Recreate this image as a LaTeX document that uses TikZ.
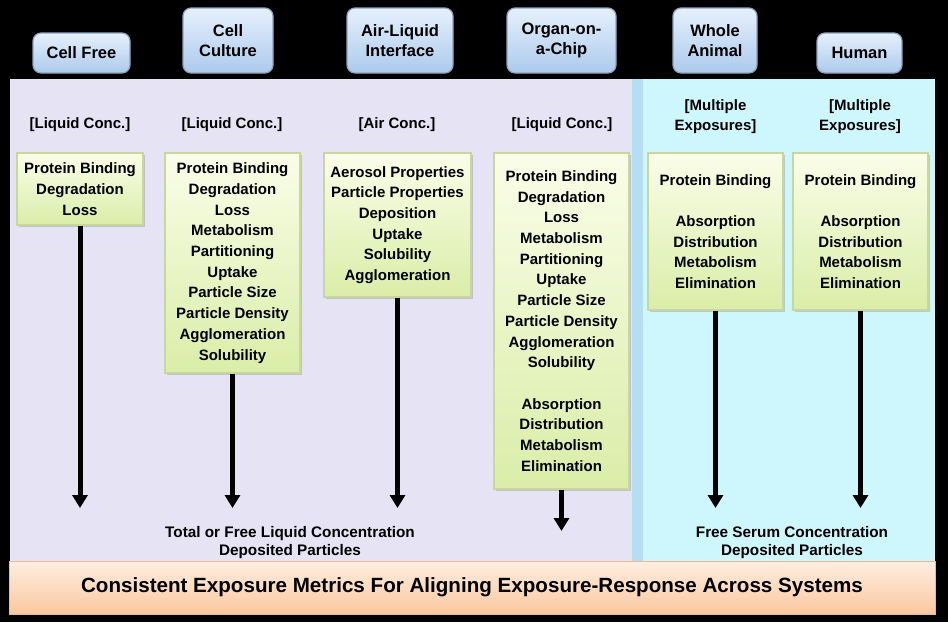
\documentclass[tikz,border=0pt]{standalone}
\usepackage{fontspec}
\setmainfont{Liberation Sans}
\usetikzlibrary{arrows.meta,shadows}
\definecolor{lavender}{RGB}{230,228,244}
\definecolor{skyfill}{RGB}{206,246,253}
\definecolor{stripe}{RGB}{182,222,242}
\definecolor{btntop}{RGB}{230,240,252}
\definecolor{btnbot}{RGB}{172,202,236}
\definecolor{btnedge}{RGB}{140,162,188}
\definecolor{boxtop}{RGB}{250,253,232}
\definecolor{boxbot}{RGB}{218,237,168}
\definecolor{boxedge}{RGB}{200,214,160}
\definecolor{bartop}{RGB}{254,238,224}
\definecolor{barbot}{RGB}{250,200,160}
\definecolor{baredge}{RGB}{232,186,150}
\begin{document}
\begin{tikzpicture}[x=1pt,y=1pt]
\tikzstyle{every node}+=[inner sep=0pt]
\tikzstyle{sysbox}=[draw=btnedge, line width=1.2pt, rounded corners=8pt, top color=btntop, bottom color=btnbot, align=center, font=\fontsize{16.5}{20}\selectfont\bfseries]
\tikzstyle{concbox}=[align=center, font=\fontsize{15}{20}\selectfont\bfseries]
\tikzstyle{factbox}=[draw=boxedge, line width=1.2pt, top color=boxtop, bottom color=boxbot, align=center, drop shadow={shadow xshift=2pt, shadow yshift=-2pt, opacity=0.35}, font=\fontsize{15}{20.7}\selectfont\bfseries]
\tikzstyle{metric}=[align=center, font=\fontsize{15.3}{18}\selectfont\bfseries]
\tikzstyle{flow}=[-{Triangle[width=15pt,length=13pt]}, line width=5pt]
\useasboundingbox (0,0) rectangle (948,-622);
\fill [black] (0,0) rectangle (948,-622);
\fill [lavender] (10,-79) rectangle (632,-561);
\fill [stripe] (632,-79) rectangle (643,-561);
\fill [skyfill] (643,-79) rectangle (935,-561);
\node [sysbox, minimum width=97pt, minimum height=40pt] (free) at (81.5,-53) {Cell Free};
\node [sysbox, minimum width=90pt, minimum height=65pt] (culture) at (228,-40.5) {Cell\\Culture};
\node [sysbox, minimum width=106pt, minimum height=65pt] (ali) at (400,-40.5) {Air-Liquid\\Interface};
\node [sysbox, minimum width=109pt, minimum height=65pt] (chip) at (561.5,-40.5) {Organ-on-\\a-Chip};
\node [sysbox, minimum width=84pt, minimum height=65pt] (animal) at (715,-40.5) {Whole\\Animal};
\node [sysbox, minimum width=85pt, minimum height=40pt] (human) at (859.5,-53) {Human};
\node [concbox] (freeconc) at (80,-125) {[Liquid Conc.]};
\node [concbox] (cultureconc) at (232,-125) {[Liquid Conc.]};
\node [concbox] (aliconc) at (397,-125) {[Air Conc.]};
\node [concbox] (chipconc) at (562,-125) {[Liquid Conc.]};
\node [concbox] (animalconc) at (715.5,-117) {[Multiple\\Exposures]};
\node [concbox] (humanconc) at (860,-117) {[Multiple\\Exposures]};
\node [factbox, minimum width=126pt, minimum height=72pt] (freebox) at (80,-189) {Protein Binding\\Degradation\\Loss};
\node [factbox, minimum width=135pt, minimum height=220pt] (culturebox) at (232.5,-263) {Protein Binding\\Degradation\\Loss\\Metabolism\\Partitioning\\Uptake\\Particle Size\\Particle Density\\Agglomeration\\Solubility};
\node [factbox, minimum width=147pt, minimum height=144pt] (alibox) at (397.5,-225) {Aerosol Properties\\Particle Properties\\Deposition\\Uptake\\Solubility\\Agglomeration};
\node [factbox, minimum width=135pt, minimum height=336pt] (chipbox) at (561.5,-321) {Protein Binding\\Degradation\\Loss\\Metabolism\\Partitioning\\Uptake\\Particle Size\\Particle Density\\Agglomeration\\Solubility\\[20.7pt]Absorption\\Distribution\\Metabolism\\Elimination};
\node [factbox, minimum width=135pt, minimum height=157pt] (animalbox) at (715.5,-231.5) {Protein Binding\\[20.7pt]Absorption\\Distribution\\Metabolism\\Elimination};
\node [factbox, minimum width=135pt, minimum height=157pt] (humanbox) at (860.5,-231.5) {Protein Binding\\[20.7pt]Absorption\\Distribution\\Metabolism\\Elimination};
\coordinate (freetip) at (80,-508);
\coordinate (culturetip) at (232.5,-508);
\coordinate (alitip) at (397.5,-508);
\coordinate (chiptip) at (561.5,-531);
\coordinate (animaltip) at (715.5,-508);
\coordinate (humantip) at (860.5,-508);
\draw [flow] (freebox.south) -- (freetip);
\draw [flow] (culturebox.south) -- (culturetip);
\draw [flow] (alibox.south) -- (alitip);
\draw [flow] (chipbox.south) -- (chiptip);
\draw [flow] (animalbox.south) -- (animaltip);
\draw [flow] (humanbox.south) -- (humantip);
\node [metric] (liquidout) at (290,-543) {Total or Free Liquid Concentration\\Deposited Particles};
\node [metric] (serumout) at (792,-543) {Free Serum Concentration\\Deposited Particles};
\node [draw=baredge, line width=1pt, top color=bartop, bottom color=barbot, minimum width=926pt, minimum height=53pt, font=\fontsize{20.6}{22}\selectfont\bfseries] (metrics) at (472,-587.5) {Consistent Exposure Metrics For Aligning Exposure-Response Across Systems};
\end{tikzpicture}
\end{document}
